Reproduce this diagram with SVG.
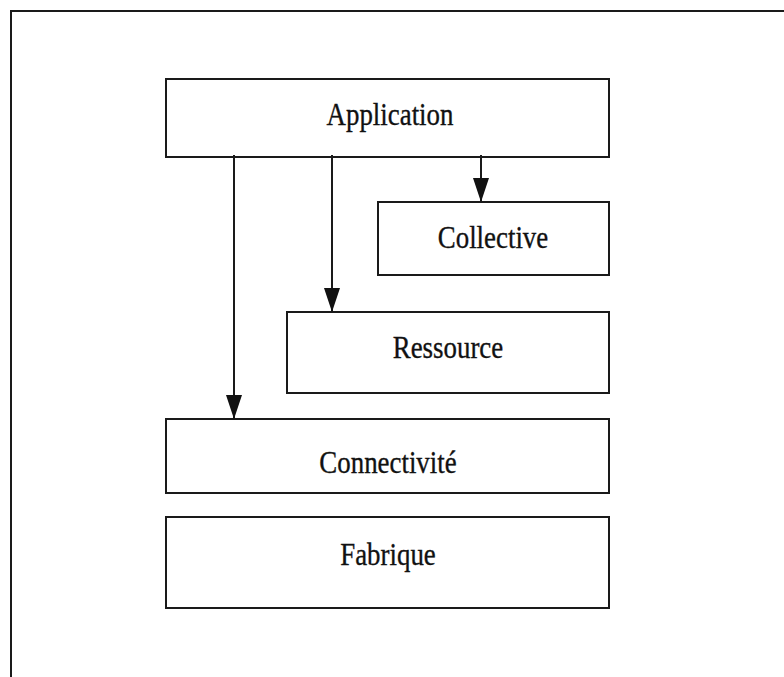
<svg xmlns="http://www.w3.org/2000/svg" width="784" height="677" viewBox="0 0 784 677">
  <style>
    .box { fill: #ffffff; stroke: #1a1a1a; stroke-width: 2; }
    .frame { fill: none; stroke: #1a1a1a; stroke-width: 2; }
    .link { fill: none; stroke: #1a1a1a; stroke-width: 2; }
    .label { font-size: 32px; fill: #111111; stroke: #111111; stroke-width: 0.35; text-anchor: middle; }
  </style>
  <defs>
    <marker id="arrow" markerUnits="userSpaceOnUse" markerWidth="24" markerHeight="16" refX="24" refY="8" orient="auto">
      <path d="M0,0 L24,8 L0,16 Z" fill="#111111"/>
    </marker>
  </defs>

  <rect width="784" height="677" fill="#ffffff"/>

  <!-- outer frame (open to the right and bottom) -->
  <path class="frame" d="M11,677 V11 H784"/>

  <g id="application">
    <rect class="box" x="166" y="79" width="443" height="78"/>
    <text class="label" font-family="Liberation Serif, serif" transform="translate(390,125) scale(0.84,1)">Application</text>
  </g>

  <g id="collective">
    <rect class="box" x="378" y="202" width="231" height="73"/>
    <text class="label" font-family="Liberation Serif, serif" transform="translate(493,248) scale(0.84,1)">Collective</text>
  </g>

  <g id="ressource">
    <rect class="box" x="287" y="312" width="322" height="81"/>
    <text class="label" font-family="Liberation Serif, serif" transform="translate(448,358) scale(0.84,1)">Ressource</text>
  </g>

  <g id="connectivite">
    <rect class="box" x="166" y="419" width="443" height="74"/>
    <text class="label" font-family="Liberation Serif, serif" transform="translate(388,473) scale(0.84,1)">Connectivité</text>
  </g>

  <g id="fabrique">
    <rect class="box" x="166" y="517" width="443" height="91"/>
    <text class="label" font-family="Liberation Serif, serif" transform="translate(388,565) scale(0.84,1)">Fabrique</text>
  </g>

  <g id="connectors">
    <line class="link" x1="481" y1="155" x2="481" y2="202" marker-end="url(#arrow)"/>
    <line class="link" x1="332" y1="155" x2="332" y2="312" marker-end="url(#arrow)"/>
    <line class="link" x1="234" y1="155" x2="234" y2="419" marker-end="url(#arrow)"/>
  </g>
</svg>
